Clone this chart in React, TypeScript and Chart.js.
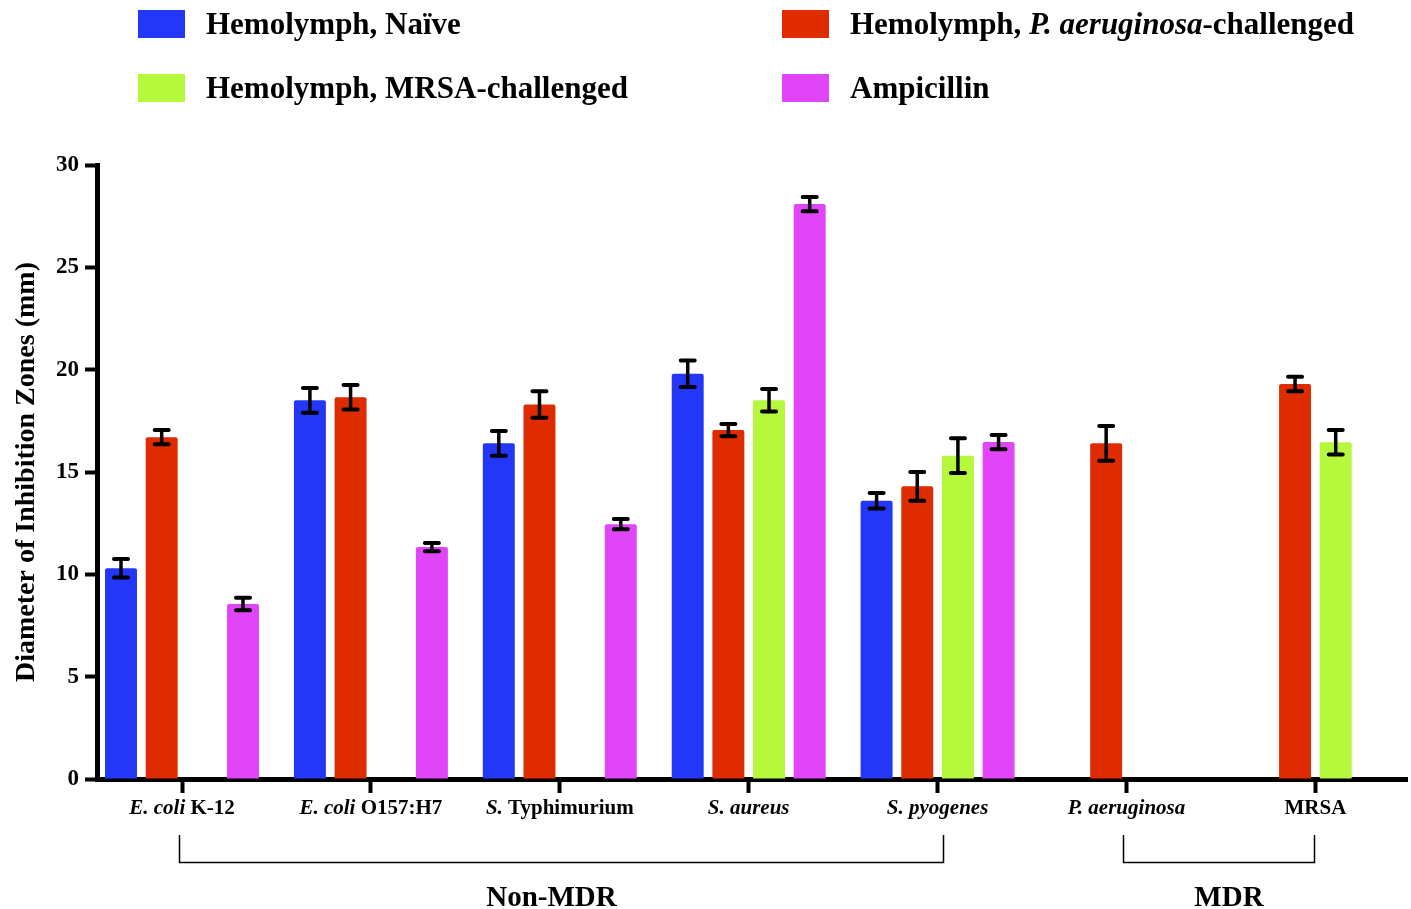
import React, { useEffect, useRef } from "react";
import { Chart, registerables } from "chart.js";

Chart.register(...registerables);

const categories = [
  "E. coli K-12",
  "E. coli O157:H7",
  "S. Typhimurium",
  "S. aureus",
  "S. pyogenes",
  "P. aeruginosa",
  "MRSA",
];
const categoryItalic = ["E. coli", "E. coli", "S.", "S. aureus", "S. pyogenes", "P. aeruginosa", ""];

const seriesNames = [
  "Hemolymph, Naïve",
  "Hemolymph, P. aeruginosa-challenged",
  "Hemolymph, MRSA-challenged",
  "Ampicillin",
];
const seriesItalic = ["", "P. aeruginosa", "", ""];
const seriesColors = ["#2337F8", "#DE2B00", "#B5F83C", "#E045F7"];

const naive = [10.3, 18.5, 16.4, 19.8, 13.6, null, null];
const naiveErr = [0.45, 0.6, 0.6, 0.65, 0.38, null, null];
const paChallenged = [16.7, 18.65, 18.3, 17.05, 14.3, 16.4, 19.3];
const paChallengedErr = [0.35, 0.6, 0.65, 0.3, 0.7, 0.85, 0.35];
const mrsaChallenged = [null, null, null, 18.5, 15.8, null, 16.45];
const mrsaChallengedErr = [null, null, null, 0.55, 0.85, null, 0.6];
const ampicillin = [8.55, 11.33, 12.45, 28.09, 16.46, null, null];
const ampicillinErr = [0.3, 0.2, 0.25, 0.35, 0.35, null, null];

const yTicks = [0, 5, 10, 15, 20, 25, 30];
const yTitle = "Diameter of Inhibition Zones (mm)";

const groupNames = ["Non-MDR", "MDR"];
const groupFrom = [0, 5];
const groupTo = [4, 6];

const FAMILY = "'Liberation Serif', 'Times New Roman', serif";

function drawMixed(
  ctx: CanvasRenderingContext2D,
  text: string,
  italic: string,
  x: number,
  y: number,
  size: number,
  align: "left" | "center"
) {
  let parts: [string, boolean][] = [];
  const idx = italic ? text.indexOf(italic) : -1;
  if (idx >= 0) {
    if (idx > 0) parts.push([text.slice(0, idx), false]);
    parts.push([italic, true]);
    if (idx + italic.length < text.length) parts.push([text.slice(idx + italic.length), false]);
  } else parts = [[text, false]];
  const fontFor = (it: boolean) => `${it ? "italic " : ""}bold ${size}px ${FAMILY}`;
  let total = 0;
  for (const [t, it] of parts) {
    ctx.font = fontFor(it);
    total += ctx.measureText(t).width;
  }
  let cx = align === "center" ? x - total / 2 : x;
  ctx.textAlign = "left";
  ctx.textBaseline = "middle";
  ctx.fillStyle = "#000";
  for (const [t, it] of parts) {
    ctx.font = fontFor(it);
    ctx.fillText(t, cx, y);
    cx += ctx.measureText(t).width;
  }
}

const decorPlugin = {
  id: "decor",
  afterDatasetsDraw(chart: any) {
    const ctx: CanvasRenderingContext2D = chart.ctx;
    const yScale = chart.scales.y;
    ctx.save();
    chart.data.datasets.forEach((ds: any, i: number) => {
      const meta = chart.getDatasetMeta(i);
      meta.data.forEach((bar: any, j: number) => {
        const v = ds.data[j];
        const e = ds.errors[j];
        if (v == null || e == null) return;
        const yT = yScale.getPixelForValue(v + e);
        const yB = yScale.getPixelForValue(v - e);
        ctx.strokeStyle = "#000";
        ctx.lineCap = "round";
        ctx.lineWidth = 3.5;
        ctx.beginPath();
        ctx.moveTo(bar.x, yT);
        ctx.lineTo(bar.x, yB);
        ctx.stroke();
        ctx.lineWidth = 4;
        ctx.beginPath();
        ctx.moveTo(bar.x - 7, yT);
        ctx.lineTo(bar.x + 7, yT);
        ctx.moveTo(bar.x - 7, yB);
        ctx.lineTo(bar.x + 7, yB);
        ctx.stroke();
      });
    });
    ctx.restore();
  },
  afterDraw(chart: any) {
    const ctx: CanvasRenderingContext2D = chart.ctx;
    const xScale = chart.scales.x;
    ctx.save();
    categories.forEach((c, i) => {
      const x = xScale.getPixelForValue(i);
      drawMixed(ctx, c, categoryItalic[i], x, 809, 21, "center");
    });
    ctx.strokeStyle = "#000";
    ctx.lineWidth = 1.5;
    ctx.lineCap = "butt";
    groupNames.forEach((g, k) => {
      const x1 = Math.round(xScale.getPixelForValue(groupFrom[k])) - 2.5;
      const x2 = Math.round(xScale.getPixelForValue(groupTo[k])) + (k === 0 ? 5.5 : -0.5);
      ctx.beginPath();
      ctx.moveTo(x1, 835);
      ctx.lineTo(x1, 862.5);
      ctx.lineTo(x2, 862.5);
      ctx.lineTo(x2, 835);
      ctx.stroke();
      drawMixed(ctx, g, "", (x1 + x2) / 2 + (k === 0 ? -10 : 10), 899, 29, "center");
    });
    const legX = [138, 782, 138, 782];
    const legY = [24, 24, 88, 88];
    [0, 1, 2, 3].forEach((i) => {
      ctx.fillStyle = seriesColors[i];
      ctx.fillRect(legX[i], legY[i] - 14, 47, 28);
      drawMixed(ctx, seriesNames[i], seriesItalic[i], legX[i] + 68, legY[i] + 2, 31, "left");
    });
    ctx.restore();
  },
};

export default function App() {
  const ref = useRef<HTMLCanvasElement | null>(null);
  useEffect(() => {
    document.body.style.margin = "0";
    const canvas = ref.current!;
    const seriesData = [naive, paChallenged, mrsaChallenged, ampicillin];
    const seriesErr = [naiveErr, paChallengedErr, mrsaChallengedErr, ampicillinErr];
    const chart = new Chart(canvas, {
      type: "bar",
      data: {
        labels: categories,
        datasets: seriesNames.map((n, i) => ({
          label: n,
          data: seriesData[i] as any,
          errors: seriesErr[i],
          backgroundColor: seriesColors[i],
          borderWidth: 0,
          borderRadius: 2,
          borderSkipped: "start",
          categoryPercentage: 0.861,
          barPercentage: 0.786,
        })) as any,
      },
      options: {
        animation: false,
        responsive: false,
        maintainAspectRatio: false,
        layout: { padding: { top: 165, right: 4, left: 0, bottom: 0 } },
        plugins: { legend: { display: false }, tooltip: { enabled: false } },
        scales: {
          x: {
            type: "category",
            offset: true,
            grid: {
              display: true,
              drawOnChartArea: false,
              drawTicks: true,
              tickLength: 14,
              tickWidth: 4,
              tickColor: "#000",
              offset: false,
            },
            border: { display: true, width: 5, color: "#000" },
            ticks: { display: false },
            afterFit: (s: any) => {
              s.height = 130;
            },
            afterBuildTicks: (s: any) => {
              s._startValue = -0.45;
              s._valueRange = 6.935;
            },
          },
          y: {
            min: 0,
            max: 30,
            afterBuildTicks: (s: any) => {
              s.ticks = yTicks.map((v) => ({ value: v }));
            },
            ticks: {
              color: "#000",
              padding: 6,
              font: { family: FAMILY, size: 23, weight: "bold" },
            },
            grid: {
              drawOnChartArea: false,
              drawTicks: true,
              tickLength: 12,
              tickWidth: 4,
              tickColor: "#000",
            },
            border: { display: true, width: 5, color: "#000" },
            title: {
              display: true,
              text: yTitle,
              color: "#000",
              font: { family: FAMILY, size: 28, weight: "bold" },
              padding: { top: 10, bottom: 0 },
            },
            afterFit: (s: any) => {
              s.width = 97;
            },
          },
        },
      } as any,
      plugins: [decorPlugin],
    });
    return () => chart.destroy();
  }, []);
  return <canvas ref={ref} width={1411} height={909} style={{ display: "block" }} />;
}
